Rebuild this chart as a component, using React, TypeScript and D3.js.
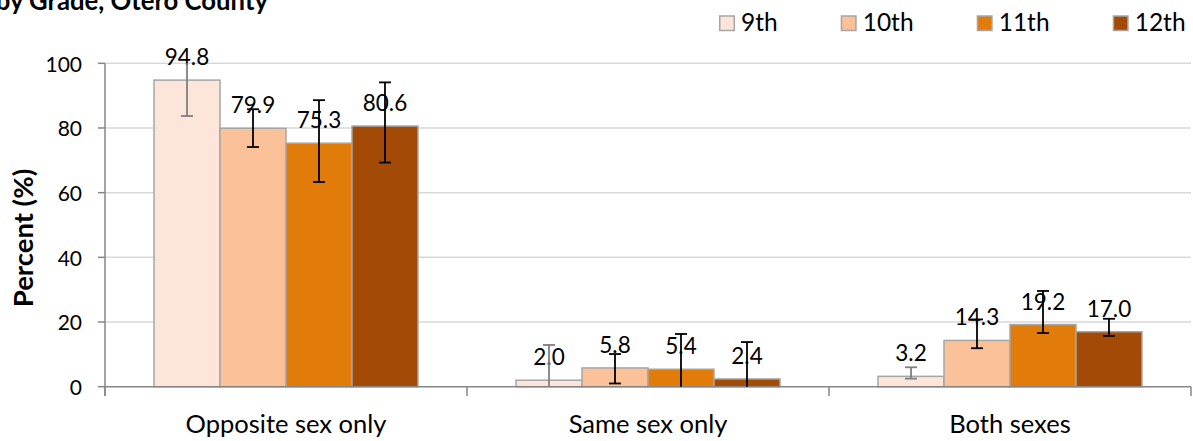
import React from "react";
import * as d3 from "d3";

const categories = ["Opposite sex only", "Same sex only", "Both sexes"];
const grades = ["9th", "10th", "11th", "12th"];
const colors = ["#FDE5D9", "#FBC299", "#E17C0B", "#A34A06"];
const errColors = ["#7F7F7F", "#000000", "#000000", "#000000"];

const values9 = [94.8, 2.0, 3.2];
const values10 = [79.9, 5.8, 14.3];
const values11 = [75.3, 5.4, 19.2];
const values12 = [80.6, 2.4, 17.0];

const lower9 = [83.7, 0, 2.5];
const upper9 = [100, 12.9, 6.0];
const lower10 = [74.1, 1.0, 11.9];
const upper10 = [85.8, 10.1, 20.8];
const lower11 = [63.3, 0, 16.6];
const upper11 = [88.6, 16.3, 29.6];
const lower12 = [69.3, 0, 15.7];
const upper12 = [94.1, 13.8, 21.0];

const yTicks = [0, 20, 40, 60, 80, 100];

const seriesValues = [values9, values10, values11, values12];
const seriesLower = [lower9, lower10, lower11, lower12];
const seriesUpper = [upper9, upper10, upper11, upper12];

const W = 1193;
const H = 441;
const FONT = "Lato, 'Open Sans', sans-serif";

export default function App() {
  const y = d3.scaleLinear().domain([0, 100]).range([386.7, 63.3]);
  const x0 = d3.scaleBand<string>().domain(categories).range([105, 1191]).padding(0);
  const bw = x0.bandwidth();
  const gap = bw * 0.1354;
  const x1 = d3.scaleBand<string>().domain(grades).range([gap, bw - gap]).padding(0);
  const barW = x1.bandwidth();
  const legendX = [719, 840.7, 976.7, 1112.7];
  const capHalf = 6;

  return (
    <svg
      width={W}
      height={H}
      style={{ position: "absolute", left: 0, top: 0, background: "#fff" }}
      fontFamily={FONT}
    >
      <rect x={0} y={0} width={W} height={H} fill="#fff" />
      {/* title (clipped at top-left) */}
      <text x={268} y={9.5} textAnchor="end" fontSize={25.7} fontWeight="bold" fill="#000">
        by Grade, Otero County
      </text>

      {/* gridlines */}
      {yTicks.filter((t) => t > 0).map((t) => (
        <line key={t} x1={105} x2={1191} y1={y(t)} y2={y(t)} stroke="#D9D9D9" strokeWidth={1.5} />
      ))}

      {/* y tick labels and ticks */}
      {yTicks.map((t) => (
        <g key={t}>
          <line x1={98} x2={105} y1={y(t)} y2={y(t)} stroke="#868686" strokeWidth={1.5} />
          <text x={82} y={y(t)} dy="0.4em" textAnchor="end" fontSize={21} fill="#000">
            {t}
          </text>
        </g>
      ))}

      {/* y axis label */}
      <text
        transform={`translate(33, ${238}) rotate(-90)`}
        textAnchor="middle"
        fontSize={27.5}
        fontWeight="bold"
        fill="#000"
      >
        Percent (%)
      </text>

      {/* bars */}
      {categories.map((c, ci) => (
        <g key={c} transform={`translate(${x0(c)},0)`}>
          {grades.map((g, gi) => {
            const v = seriesValues[gi][ci];
            return (
              <rect
                key={g}
                x={x1(g)}
                y={y(v)}
                width={barW}
                height={y(0) - y(v)}
                fill={colors[gi]}
                stroke="#A6A6A6"
                strokeWidth={1.5}
              />
            );
          })}
        </g>
      ))}

      {/* axes lines */}
      <line x1={105} x2={1191} y1={y(0)} y2={y(0)} stroke="#868686" strokeWidth={1.5} />
      <line x1={105} x2={105} y1={y(100)} y2={396} stroke="#868686" strokeWidth={1.5} />
      {[0, 1, 2, 3].map((i) => {
        const xx = 105 + i * bw;
        return <line key={i} x1={xx} x2={xx} y1={y(0)} y2={396} stroke="#868686" strokeWidth={1.5} />;
      })}

      {/* data labels */}
      {categories.map((c, ci) => (
        <g key={c} transform={`translate(${x0(c)},0)`}>
          {grades.map((g, gi) => {
            const v = seriesValues[gi][ci];
            const cx = (x1(g) as number) + barW / 2;
            return (
              <text key={g} x={cx} y={y(v) - 15} textAnchor="middle" fontSize={22.5} fill="#000">
                {v.toFixed(1)}
              </text>
            );
          })}
        </g>
      ))}

      {/* error bars */}
      {categories.map((c, ci) => (
        <g key={c} transform={`translate(${x0(c)},0)`}>
          {grades.map((g, gi) => {
            const lo = seriesLower[gi][ci];
            const hi = seriesUpper[gi][ci];
            const cx = (x1(g) as number) + barW / 2;
            const col = errColors[gi];
            return (
              <g key={g} stroke={col} strokeWidth={1.8}>
                <line x1={cx} x2={cx} y1={y(lo)} y2={y(hi)} />
                {lo > 0 && <line x1={cx - capHalf} x2={cx + capHalf} y1={y(lo)} y2={y(lo)} />}
                {hi < 100 && <line x1={cx - capHalf} x2={cx + capHalf} y1={y(hi)} y2={y(hi)} />}
              </g>
            );
          })}
        </g>
      ))}

      {/* category labels */}
      {categories.map((c) => (
        <text
          key={c}
          x={(x0(c) as number) + bw / 2}
          y={433}
          textAnchor="middle"
          fontSize={25.5}
          fill="#000"
        >
          {c}
        </text>
      ))}

      {/* legend */}
      {grades.map((g, gi) => (
        <g key={g}>
          <rect
            x={legendX[gi] + 0.75}
            y={16}
            width={14.5}
            height={14.5}
            fill={colors[gi]}
            stroke="#A6A6A6"
            strokeWidth={1.5}
          />
          <text x={legendX[gi] + 22} y={30.5} fontSize={24.5} fill="#000">
            {g}
          </text>
        </g>
      ))}
    </svg>
  );
}
